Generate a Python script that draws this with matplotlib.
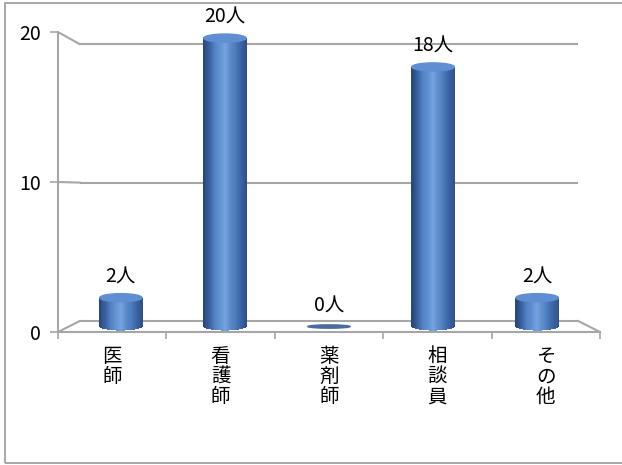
import matplotlib
matplotlib.use('Agg')
import matplotlib.pyplot as plt
import numpy as np
from matplotlib.patches import Ellipse, Rectangle
from matplotlib.colors import LinearSegmentedColormap

plt.rcParams['font.family'] = ['Noto Sans CJK JP', 'DejaVu Sans']

categories = ['医師', '看護師', '薬剤師', '相談員', 'その他']
values = [2, 20, 0, 18, 2]
yticks = [0, 10, 20]

grid_color = '#a6a6a6'
fsize = 14
body_cmap = LinearSegmentedColormap.from_list(
    'cyl', ['#26457a', '#4f7fc2', '#74a3e0', '#4a78b8', '#2f5290'])

# depth of the fake 3D box (front -> back), in data units
depth_x = 0.2
floor_back = 0.73
scale_back = 0.923


def back(v):
    return floor_back + v * scale_back


def mid(v):
    return floor_back / 2 + v * (1 + scale_back) / 2


fig = plt.figure(figsize=(6.22, 4.65), dpi=100)
fig.add_artist(Rectangle((5 / 622, 2 / 465), 1.0, 460 / 465,
                         transform=fig.transFigure, fill=False,
                         edgecolor='#a0a0a0', lw=1.3))
ax = fig.add_axes([58 / 622, 133 / 465, 542 / 622, 300 / 465])
n = len(categories)
ax.set_xlim(0, n)
ax.set_ylim(0, 20)

for s in ['top', 'right']:
    ax.spines[s].set_visible(False)
for s in ['left', 'bottom']:
    ax.spines[s].set_color(grid_color)
    ax.spines[s].set_linewidth(1.5)

# back wall gridlines and box edges
for t in yticks:
    ax.plot([depth_x, n - depth_x], [back(t), back(t)], color=grid_color,
            lw=1.5, solid_capstyle='butt')
    ax.plot([0, depth_x], [t, back(t)], color=grid_color, lw=1.5)
ax.plot([n, n - depth_x], [0, back(0)], color=grid_color, lw=1.5)

# cylinders
bar_w = 0.39
e_half = 0.27
slices = 40
for i, v in enumerate(values):
    xc = depth_x / 2 + (i + 0.5) * (n - depth_x) / n
    base = mid(0)
    top = mid(v)
    if v == 0:
        ax.add_patch(Ellipse((xc, base), bar_w, 0.22, color='#4a6b9e',
                             zorder=3))
    else:
        u = np.linspace(-1, 1, slices)
        sx = xc + u * bar_w / 2
        bottoms = base - e_half * np.sqrt(1 - u ** 2)
        cols = body_cmap((u + 1) / 2)
        ax.bar(sx, top - bottoms, bottom=bottoms, width=bar_w / slices * 1.1,
               color=cols, linewidth=0, zorder=3)
        ax.add_patch(Ellipse((xc, top), bar_w, 2 * e_half, color='#5f8fd2',
                             zorder=4))
    ax.annotate(f'{v}人', (xc, top), xytext=(0, 15),
                textcoords='offset points', ha='center', va='center',
                fontsize=fsize, color='black', zorder=5)

ax.set_yticks(yticks)
ax.set_yticklabels([str(t) for t in yticks], fontsize=fsize)
ax.tick_params(axis='y', length=6, color=grid_color, width=1.2, pad=6)

ax.set_xticks(np.arange(n) + 0.5)
ax.set_xticklabels(['\n'.join(c) for c in categories], fontsize=fsize,
                   linespacing=0.95, va='top')
ax.tick_params(axis='x', length=0, pad=10)
ax.set_xticks(np.arange(n + 1), minor=True)
ax.tick_params(axis='x', which='minor', length=5, color=grid_color, width=1.2)

fig.savefig('out.png', dpi=100, facecolor='white')
